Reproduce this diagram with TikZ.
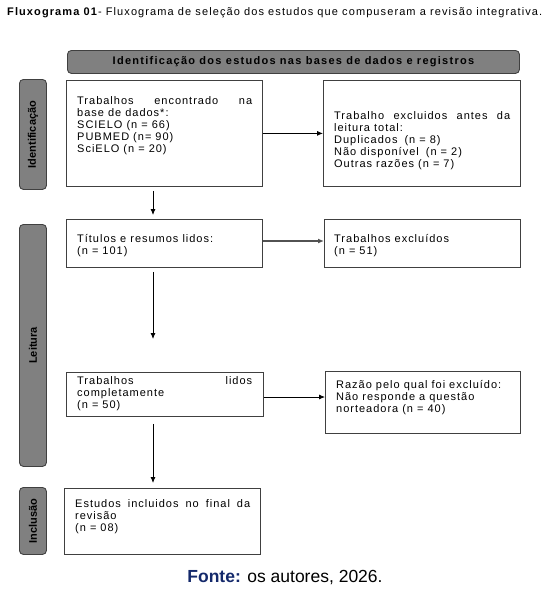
\documentclass[tikz,border=0pt]{standalone}
\usepackage{fontspec}
\setmainfont{Liberation Sans}
\newfontfamily\boxfont[LetterSpace=9]{Liberation Sans}
\newfontfamily\headfont[LetterSpace=11.5]{Liberation Sans}
\newfontfamily\ttlfont[LetterSpace=10]{Liberation Sans}
\usetikzlibrary{arrows.meta}
\definecolor{barfill}{HTML}{808080}
\definecolor{edgecol}{HTML}{404040}
\definecolor{navy}{HTML}{14296B}
\begin{document}
\begin{tikzpicture}[x=1pt,y=-1pt,
  box/.style={draw=edgecol, line width=0.8pt, fill=white, inner sep=0pt, anchor=north west},
  bar/.style={draw=edgecol, line width=0.9pt, fill=barfill, rounded corners=4pt, inner sep=0pt, anchor=north west},
  txt/.style={inner sep=0pt, anchor=north west, align=left, font=\boxfont\fontsize{11}{12}\selectfont},
  arr/.style={draw=black, line width=0.8pt, -{Latex[length=6pt,width=5pt]}},
  garr/.style={draw=black!68, line width=1.6pt, -{Latex[length=6pt,width=5pt,fill=black]}},
  barlabel/.style={rotate=90, inner sep=0pt, font=\bfseries\fontsize{11}{13}\selectfont}
]
\useasboundingbox (0,0) rectangle (555,590);

% title
\node[anchor=west, inner sep=0pt, font=\ttlfont\fontsize{11}{13}\selectfont] (title) at (7,13)
  {\textbf{Fluxograma 01}- Fluxograma de seleção dos estudos que compuseram a revisão integrativa.};

% header
\node[bar, minimum width=452pt, minimum height=23pt] (head) at (67,50) {};
\node[inner sep=0pt, font=\headfont\bfseries\fontsize{11}{13}\selectfont] (headtxt) at (head.center)
  {Identificação dos estudos nas bases de dados e registros};

% side bars
\node[bar, minimum width=27pt, minimum height=110pt] (barI) at (19,79) {};
\node[barlabel] (labI) at (barI.center) {Identificação};
\node[bar, minimum width=27pt, minimum height=242pt] (barL) at (19,224) {};
\node[barlabel] (labL) at (barL.center) {Leitura};
\node[bar, minimum width=27pt, minimum height=67pt] (barC) at (19,487) {};
\node[barlabel] (labC) at (barC.center) {Inclusão};

% boxes
\node[box, minimum width=196pt, minimum height=106pt] (a) at (66,80) {};
\node[box, minimum width=197pt, minimum height=106pt] (b) at (323,80) {};
\node[box, minimum width=196pt, minimum height=48pt] (c) at (66,219) {};
\node[box, minimum width=196pt, minimum height=48pt] (d) at (324,219) {};
\node[box, minimum width=197pt, minimum height=44pt] (e) at (66,372) {};
\node[box, minimum width=195pt, minimum height=62pt] (f) at (325,371) {};
\node[box, minimum width=196pt, minimum height=66pt] (g) at (64,488) {};

% texts
\node[txt] (ta) at (77,95.5) {\strut\makebox[175pt][s]{Trabalhos encontrado na}\\base de dados*:\\SCIELO (n = 66)\\PUBMED (n= 90)\\SciELO (n = 20)};
\node[txt] (tb) at (334,110.5) {\strut\makebox[176pt][s]{Trabalho excluidos antes da}\\leitura total:\\Duplicados\hspace{3pt} (n = 8)\\Não disponível\hspace{3pt} (n = 2)\\Outras razões (n = 7)};
\node[txt] (tc) at (77,233.5) {\strut Títulos e resumos lidos:\\(n = 101)};
\node[txt] (td) at (334,233.5) {\strut Trabalhos excluídos\\(n = 51)};
\node[txt] (te) at (77,375.5) {\strut\makebox[175pt][s]{Trabalhos lidos}\\completamente\\(n = 50)};
\node[txt] (tf) at (336,379.5) {\strut Razão pelo qual foi excluído:\\Não responde a questão\\norteadora (n = 40)};
\node[txt] (tg) at (75,498.5) {\strut\makebox[175pt][s]{Estudos incluidos no final da}\\revisão\\(n = 08)};

% connectors
\coordinate (colx) at (153,0);
\coordinate (cend) at (153,339);
\coordinate (ey) at (0,397);
\coordinate (cy) at (0,241);
\draw[arr] (a.east) -- (b.west);
\draw[arr] ([yshift=-4pt]a.south -| colx) -- ([yshift=4pt]c.north -| colx);
\draw[garr] (c.east |- cy) -- (d.west |- cy);
\draw[arr] ([yshift=-4pt]c.south -| colx) -- (cend);
\draw[arr] (e.east |- ey) -- (f.west |- ey);
\draw[arr] ([yshift=-7pt]e.south -| colx) -- ([yshift=5pt]g.north -| colx);

% source
\node[inner sep=0pt, font=\fontsize{17.5}{20}\selectfont] (fonte) at (285,578)
  {\textcolor{navy}{\textbf{Fonte:}} os autores, 2026.};
\end{tikzpicture}
\end{document}
